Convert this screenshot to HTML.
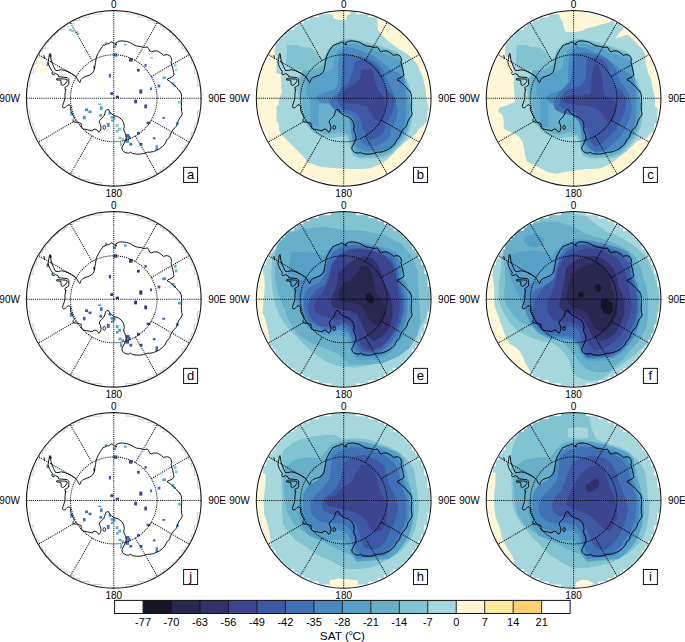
<!DOCTYPE html>
<html><head><meta charset="utf-8"><style>
html,body{margin:0;padding:0;background:#fff;width:685px;height:642px;overflow:hidden}
svg{display:block}
text{font-family:"Liberation Sans",sans-serif;fill:#000}
</style></head><body>
<svg width="685" height="642" viewBox="0 0 685 642">
<defs>
<clipPath id="cp"><circle r="87.40"/></clipPath>
<clipPath id="cs"><path d="M12.40 -86.80L12.40 -83.70L24.80 -83.70L24.80 -80.60L34.10 -80.60L34.10 -77.50L40.30 -77.50L40.30 -74.40L46.50 -74.40L46.50 -71.30L49.60 -71.30L49.60 -68.20L55.80 -68.20L55.80 -65.10L58.90 -65.10L58.90 -62.00L62.00 -62.00L62.00 -58.90L65.10 -58.90L65.10 -55.80L68.20 -55.80L68.20 -52.70L68.20 -52.70L68.20 -49.60L71.30 -49.60L71.30 -46.50L74.40 -46.50L74.40 -43.40L74.40 -43.40L74.40 -40.30L77.50 -40.30L77.50 -37.20L77.50 -37.20L77.50 -34.10L80.60 -34.10L80.60 -31.00L80.60 -31.00L80.60 -27.90L80.60 -27.90L80.60 -24.80L83.70 -24.80L83.70 -21.70L83.70 -21.70L83.70 -18.60L83.70 -18.60L83.70 -15.50L83.70 -15.50L83.70 -12.40L86.80 -12.40L86.80 -9.30L86.80 -9.30L86.80 -6.20L86.80 -6.20L86.80 -3.10L86.80 -3.10L86.80 0.00L86.80 0.00L86.80 3.10L86.80 3.10L86.80 6.20L86.80 6.20L86.80 9.30L86.80 9.30L86.80 12.40L83.70 12.40L83.70 15.50L83.70 15.50L83.70 18.60L83.70 18.60L83.70 21.70L83.70 21.70L83.70 24.80L80.60 24.80L80.60 27.90L80.60 27.90L80.60 31.00L80.60 31.00L80.60 34.10L77.50 34.10L77.50 37.20L77.50 37.20L77.50 40.30L74.40 40.30L74.40 43.40L74.40 43.40L74.40 46.50L71.30 46.50L71.30 49.60L68.20 49.60L68.20 52.70L68.20 52.70L68.20 55.80L65.10 55.80L65.10 58.90L62.00 58.90L62.00 62.00L58.90 62.00L58.90 65.10L55.80 65.10L55.80 68.20L49.60 68.20L49.60 71.30L46.50 71.30L46.50 74.40L40.30 74.40L40.30 77.50L34.10 77.50L34.10 80.60L24.80 80.60L24.80 83.70L12.40 83.70L12.40 86.80L-12.40 86.80L-12.40 83.70L-24.80 83.70L-24.80 80.60L-34.10 80.60L-34.10 77.50L-40.30 77.50L-40.30 74.40L-46.50 74.40L-46.50 71.30L-49.60 71.30L-49.60 68.20L-55.80 68.20L-55.80 65.10L-58.90 65.10L-58.90 62.00L-62.00 62.00L-62.00 58.90L-65.10 58.90L-65.10 55.80L-68.20 55.80L-68.20 52.70L-68.20 52.70L-68.20 49.60L-71.30 49.60L-71.30 46.50L-74.40 46.50L-74.40 43.40L-74.40 43.40L-74.40 40.30L-77.50 40.30L-77.50 37.20L-77.50 37.20L-77.50 34.10L-80.60 34.10L-80.60 31.00L-80.60 31.00L-80.60 27.90L-80.60 27.90L-80.60 24.80L-83.70 24.80L-83.70 21.70L-83.70 21.70L-83.70 18.60L-83.70 18.60L-83.70 15.50L-83.70 15.50L-83.70 12.40L-86.80 12.40L-86.80 9.30L-86.80 9.30L-86.80 6.20L-86.80 6.20L-86.80 3.10L-86.80 3.10L-86.80 0.00L-86.80 0.00L-86.80 -3.10L-86.80 -3.10L-86.80 -6.20L-86.80 -6.20L-86.80 -9.30L-86.80 -9.30L-86.80 -12.40L-83.70 -12.40L-83.70 -15.50L-83.70 -15.50L-83.70 -18.60L-83.70 -18.60L-83.70 -21.70L-83.70 -21.70L-83.70 -24.80L-80.60 -24.80L-80.60 -27.90L-80.60 -27.90L-80.60 -31.00L-80.60 -31.00L-80.60 -34.10L-77.50 -34.10L-77.50 -37.20L-77.50 -37.20L-77.50 -40.30L-74.40 -40.30L-74.40 -43.40L-74.40 -43.40L-74.40 -46.50L-71.30 -46.50L-71.30 -49.60L-68.20 -49.60L-68.20 -52.70L-68.20 -52.70L-68.20 -55.80L-65.10 -55.80L-65.10 -58.90L-62.00 -58.90L-62.00 -62.00L-58.90 -62.00L-58.90 -65.10L-55.80 -65.10L-55.80 -68.20L-49.60 -68.20L-49.60 -71.30L-46.50 -71.30L-46.50 -74.40L-40.30 -74.40L-40.30 -77.50L-34.10 -77.50L-34.10 -80.60L-24.80 -80.60L-24.80 -83.70L-12.40 -83.70L-12.40 -86.80Z"/></clipPath>
<g id="grid"><circle r="43.3" stroke="#000" stroke-width="1" stroke-dasharray="1.05 1.05" fill="none"/>
<path d="M0.00 -0.00L0.00 -87.40 M21.65 -37.50L43.70 -75.69 M37.50 -21.65L75.69 -43.70 M0.00 -0.00L87.40 -0.00 M37.50 21.65L75.69 43.70 M21.65 37.50L43.70 75.69 M0.00 0.00L0.00 87.40 M-21.65 37.50L-43.70 75.69 M-37.50 21.65L-75.69 43.70 M-0.00 0.00L-87.40 0.00 M-37.50 -21.65L-75.69 -43.70 M-21.65 -37.50L-43.70 -75.69" stroke="#000" stroke-width="1" stroke-dasharray="1.05 1.05" fill="none"/></g>
<g id="coast" fill="none" stroke="#000" stroke-width="0.9" stroke-linejoin="round"><path d="M-48.3 -7.8 L-48.9 -10.9 L-47.0 -11.9 L-45.0 -13.4 L-45.0 -19.0 L-46.4 -20.6 L-55.1 -21.4 L-55.7 -23.4 L-58.2 -24.6 L-60.7 -23.4 L-62.0 -24.6 L-61.3 -26.5 L-62.6 -28.4 L-64.1 -30.9 L-65.1 -33.3 L-65.7 -35.8 L-65.4 -38.3 L-64.8 -40.8 L-64.5 -43.3 L-63.8 -44.6 L-63.2 -42.1 L-62.9 -39.0 L-61.7 -35.2 L-60.1 -31.5 L-58.2 -27.7 L-55.7 -27.7 L-52.6 -28.4 L-48.9 -27.7 L-45.8 -26.5 L-42.0 -24.6 L-38.0 -21.5 L-36.4 -19.4 L-35.2 -16.9 L-33.9 -15.7 L-32.7 -18.8 L-30.8 -20.7 L-27.7 -21.9 L-24.0 -23.2 L-20.8 -25.7 L-19.6 -28.2 L-19.0 -31.9 L-18.3 -35.6 L-17.7 -39.4 L-17.1 -41.9 L-15.2 -45.6 L-13.4 -48.7 L-11.5 -51.2 L-10.9 -52.5 L-9.0 -53.1 L-6.5 -54.3 L-4.6 -54.3 L-2.8 -56.2 L-0.9 -55.6 L1.0 -53.7 L2.8 -53.1 L1.8 -55.0 L4.9 -56.8 L8.6 -57.1 L12.4 -56.6 L16.1 -55.6 L19.2 -53.7 L22.3 -52.1 L26.1 -51.6 L29.2 -50.9 L31.7 -50.6 L33.6 -51.2 L34.8 -49.4 L36.0 -46.9 L37.9 -46.2 L39.8 -47.1 L43.5 -47.1 L46.0 -45.6 L47.9 -44.4 L49.8 -42.5 L51.0 -43.1 L53.5 -43.4 L56.0 -42.5 L57.2 -40.6 L57.9 -37.5 L57.2 -36.3 L57.9 -33.2 L59.1 -29.4 L59.7 -25.7 L60.3 -23.2 L58.5 -21.3 L56.0 -20.1 L54.1 -19.5 L53.5 -18.2 L56.0 -17.0 L57.9 -15.1 L60.3 -13.2 L62.8 -10.7 L64.7 -8.2 L66.2 -7.0 L66.0 -7.4 L67.5 -4.3 L67.9 -0.6 L67.9 3.2 L67.5 8.1 L67.9 13.1 L68.5 15.6 L67.2 18.1 L65.4 20.6 L64.1 23.1 L63.5 25.6 L62.2 28.1 L59.8 30.6 L57.9 33.1 L56.6 35.6 L56.0 38.1 L54.8 39.9 L52.9 41.2 L52.3 43.0 L51.0 45.5 L48.5 48.0 L45.4 50.5 L42.3 51.8 L39.8 53.0 L36.1 53.6 L33.6 53.6 L29.8 54.9 L26.1 55.5 L22.4 55.5 L18.6 54.9 L16.8 53.6 L14.9 54.5 L12.4 54.3 L9.9 53.0 L8.7 51.8 L8.0 49.3 L9.3 46.8 L10.5 44.3 L11.8 41.8 L12.4 39.3 L11.8 35.6 L10.5 33.1 L9.9 30.6 L10.5 28.1 L9.9 24.3 L8.0 21.2 L4.9 18.7 L1.8 17.5 L-0.1 16.9 L-2.6 15.0 L-3.8 13.8 L-5.2 11.3 L-7.1 11.3 L-8.3 12.5 L-9.0 15.6 L-10.2 18.1 L-12.1 20.0 L-14.0 21.9 L-14.6 23.7 L-13.3 26.2 L-12.7 29.3 L-13.3 31.8 L-14.6 33.7 L-15.8 33.1 L-17.1 31.2 L-18.9 30.6 L-20.8 31.2 L-21.4 32.4 L-23.9 31.8 L-27.0 31.2 L-30.2 30.6 L-32.0 29.3 L-32.6 27.5 L-32.6 25.0 L-34.5 24.3 L-37.0 23.7 L-38.9 23.7 L-40.7 23.1 L-40.7 21.2 L-39.5 20.0 L-40.1 18.1 L-41.4 15.6 L-42.6 13.1 L-43.2 11.3 L-43.2 8.1 L-44.5 6.3 L-46.4 6.9 L-47.6 8.1 L-48.8 9.4 L-50.7 9.4 L-51.3 8.1 L-50.7 5.7 L-49.5 2.5 L-48.8 -0.6 L-48.8 -4.3 L-48.2 -8.1 L-47.6 -9.3 M-57.1 -19.5 L-57.1 -18.3 L-52.9 -17.9 L-52.5 -13.4 L-51.2 -12.7 L-48.6 -14.3 L-46.9 -16.8 L-46.6 -18.5 L-47.8 -19.1 L-57.1 -19.5 M-69.9 -43.0 L-69.3 -40.8 L-69.4 -39.0"/><ellipse cx="-9.5" cy="29" rx="1.3" ry="2" stroke-width="0.8"/></g>
</defs>
<rect width="685" height="642" fill="#fff"/>

<g transform="translate(113.8,98.3) scale(1,1.0055)">
<g clip-path="url(#cp)"><g clip-path="url(#cs)"><rect x="-45.3" y="-69.1" width="3.5" height="2.3" fill="#82c3d2"/><rect x="-42.3" y="-67.8" width="2.5" height="2.0" fill="#82c3d2"/><rect x="-38.3" y="-66.8" width="2.5" height="2.0" fill="#82c3d2"/><rect x="-36.3" y="-65.3" width="2.0" height="2.0" fill="#82c3d2"/><rect x="-64.5" y="-43.8" width="2.7" height="2.5" fill="#68b0ca"/><rect x="-67.2" y="-35.5" width="2.0" height="3.4" fill="#4a89c0"/><rect x="-61.8" y="-26.6" width="3.0" height="2.0" fill="#82c3d2"/><rect x="-20.6" y="-32.1" width="2.0" height="2.7" fill="#4a89c0"/><rect x="-4.9" y="-24.3" width="2.1" height="3.5" fill="#3e58a6"/><rect x="-9.0" y="-56.3" width="2.2" height="2.5" fill="#82c3d2"/><rect x="-3.5" y="-6.1" width="2.9" height="2.8" fill="#3c4590"/><rect x="-0.8" y="-52.7" width="3.0" height="2.6" fill="#68b0ca"/><rect x="10.2" y="-54.5" width="2.7" height="2.2" fill="#82c3d2"/><rect x="-0.3" y="-44.8" width="4.0" height="3.5" fill="#4a89c0"/><rect x="36.2" y="-41.0" width="2.8" height="1.4" fill="#82c3d2"/><rect x="15.2" y="-40.0" width="3.6" height="3.5" fill="#3c4590"/><rect x="30.7" y="-34.2" width="2.1" height="2.8" fill="#3e58a6"/><rect x="23.2" y="-29.4" width="2.7" height="2.8" fill="#3c4590"/><rect x="60.2" y="-34.3" width="2.5" height="3.0" fill="#a5d7dd"/><rect x="61.2" y="-29.8" width="2.4" height="3.0" fill="#a5d7dd"/><rect x="48.5" y="-21.8" width="3.7" height="2.7" fill="#68b0ca"/><rect x="43.8" y="-13.6" width="2.7" height="2.8" fill="#4070b5"/><rect x="36.2" y="-10.8" width="2.0" height="2.7" fill="#4070b5"/><rect x="25.5" y="-8.8" width="3.0" height="4.1" fill="#3c4590"/><rect x="57.7" y="-16.3" width="3.0" height="2.5" fill="#82c3d2"/><rect x="59.7" y="-13.8" width="2.5" height="2.3" fill="#82c3d2"/><rect x="1.9" y="-2.6" width="3.3" height="2.3" fill="#3c4590"/><rect x="-28.8" y="10.0" width="3.0" height="2.7" fill="#4a89c0"/><rect x="-25.3" y="12.2" width="3.0" height="2.5" fill="#4a89c0"/><rect x="-15.8" y="5.2" width="3.4" height="1.4" fill="#68b0ca"/><rect x="-30.8" y="17.5" width="2.6" height="3.4" fill="#4a89c0"/><rect x="-13.8" y="7.9" width="2.6" height="3.8" fill="#57a0c8"/><rect x="-14.5" y="15.5" width="2.7" height="2.7" fill="#57a0c8"/><rect x="-6.9" y="24.4" width="2.7" height="4.1" fill="#4a89c0"/><rect x="-5.3" y="13.7" width="2.5" height="2.5" fill="#57a0c8"/><rect x="-3.3" y="17.7" width="2.5" height="2.5" fill="#68b0ca"/><rect x="-2.8" y="21.2" width="2.5" height="2.0" fill="#57a0c8"/><rect x="-43.9" y="13.7" width="2.6" height="3.5" fill="#68b0ca"/><rect x="20.4" y="1.3" width="2.8" height="3.7" fill="#3c4590"/><rect x="30.5" y="6.2" width="2.7" height="3.7" fill="#3c4590"/><rect x="64.3" y="2.4" width="2.8" height="2.8" fill="#82c3d2"/><rect x="48.5" y="18.5" width="2.8" height="1.8" fill="#4070b5"/><rect x="32.8" y="23.2" width="3.8" height="2.3" fill="#3e58a6"/><rect x="62.2" y="23.7" width="2.8" height="2.7" fill="#68b0ca"/><rect x="23.2" y="33.3" width="2.7" height="2.7" fill="#3e58a6"/><rect x="39.0" y="38.7" width="2.7" height="2.1" fill="#4070b5"/><rect x="25.9" y="44.3" width="2.8" height="2.7" fill="#3e58a6"/><rect x="15.6" y="44.3" width="2.8" height="2.7" fill="#4070b5"/><rect x="41.7" y="46.7" width="2.5" height="5.0" fill="#57a0c8"/><rect x="12.2" y="35.5" width="3.5" height="3.7" fill="#4070b5"/><rect x="11.7" y="39.7" width="3.5" height="4.5" fill="#4a89c0"/><rect x="14.7" y="37.7" width="2.0" height="3.0" fill="#3e58a6"/><rect x="1.9" y="25.7" width="2.8" height="3.0" fill="#82c3d2"/><rect x="4.2" y="29.2" width="3.0" height="3.0" fill="#82c3d2"/><rect x="2.2" y="31.7" width="2.5" height="2.3" fill="#68b0ca"/><rect x="4.7" y="38.1" width="3.0" height="2.6" fill="#82c3d2"/><rect x="7.7" y="39.7" width="2.5" height="2.5" fill="#82c3d2"/><rect x="6.1" y="43.7" width="2.4" height="4.0" fill="#82c3d2"/><rect x="-0.8" y="17.7" width="2.5" height="3.5" fill="#68b0ca"/><rect x="-76.8" y="-38.3" width="5.0" height="4.0" fill="#fef6d4"/><rect x="-72.8" y="-35.3" width="5.0" height="4.0" fill="#fef6d4"/><rect x="-78.8" y="-33.3" width="5.0" height="4.0" fill="#fef6d4"/><rect x="-71.8" y="-30.3" width="5.0" height="4.0" fill="#fef6d4"/><rect x="-74.8" y="-28.3" width="4.0" height="3.0" fill="#fef6d4"/></g></g>
<g clip-path="url(#cp)"><path d="M12.40 -86.80L12.40 -83.70L24.80 -83.70L24.80 -80.60L34.10 -80.60L34.10 -77.50L40.30 -77.50L40.30 -74.40L46.50 -74.40L46.50 -71.30L49.60 -71.30L49.60 -68.20L55.80 -68.20L55.80 -65.10L58.90 -65.10L58.90 -62.00L62.00 -62.00L62.00 -58.90L65.10 -58.90L65.10 -55.80L68.20 -55.80L68.20 -52.70L68.20 -52.70L68.20 -49.60L71.30 -49.60L71.30 -46.50L74.40 -46.50L74.40 -43.40L74.40 -43.40L74.40 -40.30L77.50 -40.30L77.50 -37.20L77.50 -37.20L77.50 -34.10L80.60 -34.10L80.60 -31.00L80.60 -31.00L80.60 -27.90L80.60 -27.90L80.60 -24.80L83.70 -24.80L83.70 -21.70L83.70 -21.70L83.70 -18.60L83.70 -18.60L83.70 -15.50L83.70 -15.50L83.70 -12.40L86.80 -12.40L86.80 -9.30L86.80 -9.30L86.80 -6.20L86.80 -6.20L86.80 -3.10L86.80 -3.10L86.80 0.00L86.80 0.00L86.80 3.10L86.80 3.10L86.80 6.20L86.80 6.20L86.80 9.30L86.80 9.30L86.80 12.40L83.70 12.40L83.70 15.50L83.70 15.50L83.70 18.60L83.70 18.60L83.70 21.70L83.70 21.70L83.70 24.80L80.60 24.80L80.60 27.90L80.60 27.90L80.60 31.00L80.60 31.00L80.60 34.10L77.50 34.10L77.50 37.20L77.50 37.20L77.50 40.30L74.40 40.30L74.40 43.40L74.40 43.40L74.40 46.50L71.30 46.50L71.30 49.60L68.20 49.60L68.20 52.70L68.20 52.70L68.20 55.80L65.10 55.80L65.10 58.90L62.00 58.90L62.00 62.00L58.90 62.00L58.90 65.10L55.80 65.10L55.80 68.20L49.60 68.20L49.60 71.30L46.50 71.30L46.50 74.40L40.30 74.40L40.30 77.50L34.10 77.50L34.10 80.60L24.80 80.60L24.80 83.70L12.40 83.70L12.40 86.80L-12.40 86.80L-12.40 83.70L-24.80 83.70L-24.80 80.60L-34.10 80.60L-34.10 77.50L-40.30 77.50L-40.30 74.40L-46.50 74.40L-46.50 71.30L-49.60 71.30L-49.60 68.20L-55.80 68.20L-55.80 65.10L-58.90 65.10L-58.90 62.00L-62.00 62.00L-62.00 58.90L-65.10 58.90L-65.10 55.80L-68.20 55.80L-68.20 52.70L-68.20 52.70L-68.20 49.60L-71.30 49.60L-71.30 46.50L-74.40 46.50L-74.40 43.40L-74.40 43.40L-74.40 40.30L-77.50 40.30L-77.50 37.20L-77.50 37.20L-77.50 34.10L-80.60 34.10L-80.60 31.00L-80.60 31.00L-80.60 27.90L-80.60 27.90L-80.60 24.80L-83.70 24.80L-83.70 21.70L-83.70 21.70L-83.70 18.60L-83.70 18.60L-83.70 15.50L-83.70 15.50L-83.70 12.40L-86.80 12.40L-86.80 9.30L-86.80 9.30L-86.80 6.20L-86.80 6.20L-86.80 3.10L-86.80 3.10L-86.80 0.00L-86.80 0.00L-86.80 -3.10L-86.80 -3.10L-86.80 -6.20L-86.80 -6.20L-86.80 -9.30L-86.80 -9.30L-86.80 -12.40L-83.70 -12.40L-83.70 -15.50L-83.70 -15.50L-83.70 -18.60L-83.70 -18.60L-83.70 -21.70L-83.70 -21.70L-83.70 -24.80L-80.60 -24.80L-80.60 -27.90L-80.60 -27.90L-80.60 -31.00L-80.60 -31.00L-80.60 -34.10L-77.50 -34.10L-77.50 -37.20L-77.50 -37.20L-77.50 -40.30L-74.40 -40.30L-74.40 -43.40L-74.40 -43.40L-74.40 -46.50L-71.30 -46.50L-71.30 -49.60L-68.20 -49.60L-68.20 -52.70L-68.20 -52.70L-68.20 -55.80L-65.10 -55.80L-65.10 -58.90L-62.00 -58.90L-62.00 -62.00L-58.90 -62.00L-58.90 -65.10L-55.80 -65.10L-55.80 -68.20L-49.60 -68.20L-49.60 -71.30L-46.50 -71.30L-46.50 -74.40L-40.30 -74.40L-40.30 -77.50L-34.10 -77.50L-34.10 -80.60L-24.80 -80.60L-24.80 -83.70L-12.40 -83.70L-12.40 -86.80Z" fill="none" stroke="#b0b0b0" stroke-width="0.6"/></g>
<use href="#grid"/><use href="#coast"/>
<circle r="87.4" fill="none" stroke="#111" stroke-width="1"/>
<rect x="69.8" y="68.7" width="14" height="15" fill="#fff" stroke="#111" stroke-width="1"/>
<text x="76.8" y="80" font-size="13" text-anchor="middle">a</text>
</g>
<g transform="translate(343.7,98.3) scale(1,1.0055)">
<g clip-path="url(#cp)"><g clip-path="url(#cs)"><circle r="89.4" fill="#fef6d4"/><path d="M-46.6 -93.8L-13.7 -93.8L-13.7 -84.2L-11.0 -82.8L-10.4 -79.5L-5.5 -78.1L0.3 -77.6L2.7 -78.1L3.3 -82.2L6.9 -84.2L6.9 -93.8L33.4 -93.8L33.4 -80.0L34.3 -67.7L38.9 -62.2L43.0 -58.1L48.5 -54.0L54.0 -49.9L60.9 -45.8L66.3 -41.7L70.4 -37.6L74.0 -33.4L75.9 -28.0L78.7 -22.5L80.0 -17.0L81.4 -11.5L82.2 -6.0L82.8 -0.3L84.2 6.3L85.5 13.4L82.8 23.0L80.0 27.1L75.9 29.9L73.2 34.0L69.1 38.1L65.0 40.8L60.9 43.6L56.7 47.7L52.6 51.8L48.5 55.9L44.4 60.0L38.9 64.1L33.4 66.9L26.6 69.6L19.7 70.2L6.0 70.2L-0.8 69.6L-8.2 69.6L-16.4 68.8L-21.9 68.3L-27.4 66.9L-30.2 65.5L-35.6 64.1L-38.4 60.0L-42.5 55.9L-46.6 51.8L-50.7 47.7L-54.8 43.6L-58.9 39.5L-61.7 36.7L-64.4 32.6L-65.2 24.4L-67.2 23.0L-67.2 7.9L-65.2 6.6L-64.4 -0.3L-61.7 -6.0L-62.5 -11.5L-62.5 -23.8L-67.2 -25.2L-67.2 -41.7L-68.5 -43.0L-69.9 -52.1L-93.2 -60.9L-93.2 -93.8Z" fill="#a5d7dd"/><path d="M-56.8 -53.0L-44.6 -53.0L-44.6 -51.2L-33.4 -50.2L-29.7 -47.4L-26.9 -44.6L-23.1 -40.9L-20.3 -39.0L-18.4 -42.7L-15.6 -49.3L-9.1 -54.9L-1.6 -58.1L7.7 -59.2L17.1 -57.3L26.4 -54.9L35.8 -52.1L45.1 -49.3L54.4 -45.6L59.1 -39.9L59.1 -31.5L60.1 -23.1L63.8 -17.5L67.5 -7.2L69.4 7.7L68.5 22.7L65.7 33.0L61.0 41.4L54.4 48.8L47.9 55.4L39.5 59.1L17.1 60.1L9.6 57.3L5.9 48.8L4.9 41.4L2.1 37.6L-5.4 38.6L-12.8 39.5L-20.3 38.6L-27.8 35.8L-33.4 31.1L-39.0 24.5L-41.8 17.1L-43.7 7.7L-45.6 -1.6L-46.5 -11.0L-44.6 -20.3L-41.8 -27.8L-48.4 -28.7L-57.7 -32.5Z" fill="#82c3d2"/><path d="M-40.9 -27.8L-29.7 -28.7L-20.3 -33.4L-18.4 -39.0L-17.5 -44.6L-14.7 -49.3L-8.2 -54.0L-1.6 -56.8L7.7 -57.7L17.1 -55.8L26.4 -53.0L35.8 -50.2L45.1 -47.4L54.4 -43.7L57.3 -39.0L57.3 -31.5L58.2 -22.2L61.9 -16.6L65.7 -7.2L67.5 7.7L66.6 22.7L63.8 32.0L59.1 39.5L53.5 47.0L47.0 53.5L37.6 57.3L17.1 58.2L10.5 55.4L7.7 48.8L6.8 41.4L4.0 35.9L-1.6 34.1L-7.2 34.1L-12.8 35.9L-19.4 35.8L-25.0 33.0L-31.5 30.1L-35.3 24.5L-39.0 17.1L-40.9 7.7L-42.7 -3.3L-44.6 -11.0L-42.7 -20.3Z" fill="#68b0ca"/><path d="M-37.1 -21.3L-24.1 -23.1L-11.0 -29.7L-10.0 -39.9L-5.4 -48.4L2.3 -54.0L9.8 -54.9L16.3 -53.0L22.9 -51.2L30.3 -48.4L35.0 -45.6L41.6 -43.7L49.0 -40.9L54.6 -39.0L57.4 -37.1L59.3 -32.5L60.1 -25.9L61.9 -16.6L64.7 -7.2L66.6 7.7L65.7 20.8L62.9 30.1L58.2 37.6L52.6 45.1L47.0 50.7L37.6 54.4L28.3 55.4L17.1 55.4L11.5 52.6L9.6 45.1L8.7 37.6L6.8 28.3L4.0 18.9L2.3 6.0L-25.0 6.0L-25.0 28.5L-33.4 28.5L-33.4 0.4L-37.1 -3.3Z" fill="#57a0c8"/><path d="M2.3 -51.2L7.9 -50.2L13.5 -49.3L19.1 -46.5L24.7 -44.6L30.3 -41.8L36.9 -37.1L41.6 -33.4L47.2 -28.7L52.8 -25.9L57.3 -23.1L59.7 -18.4L62.3 -7.2L62.9 15.2L61.0 26.4L58.2 35.8L54.4 41.4L48.8 48.8L39.5 51.6L30.1 52.6L20.8 52.6L13.3 48.8L9.6 43.2L7.7 35.8L6.8 26.4L5.9 18.9L2.1 17.1L-9.1 5.9L-24.1 4.0L-27.8 -1.6L-20.3 -5.4L-9.1 -9.1L-5.4 -16.6L-5.4 -35.3L-3.5 -44.6Z" fill="#4a89c0"/><path d="M2.3 -44.6L7.9 -43.7L11.6 -41.8L16.3 -41.8L21.0 -40.9L26.6 -39.0L32.2 -36.2L35.9 -32.5L39.7 -27.8L42.5 -22.2L44.4 -16.6L47.2 -11.0L49.2 -5.4L51.6 2.1L54.1 10.7L53.5 17.1L51.6 22.9L48.8 28.3L47.0 33.0L47.2 35.9L43.4 41.6L37.8 45.3L30.3 48.1L22.9 47.2L17.3 43.4L14.4 38.7L12.6 34.1L11.6 28.5L10.7 21.0L7.9 17.3L2.3 15.4L-3.5 15.2L-9.1 11.5L-12.8 7.7L-14.7 2.1L-11.0 -1.6L-3.5 -7.2L-2.6 -16.6L-1.6 -25.9L-1.6 -35.3L0.2 -42.7Z" fill="#4070b5"/><path d="M11.6 -36.2L16.3 -38.1L21.9 -39.0L28.5 -35.3L33.1 -31.5L35.9 -27.8L37.8 -23.1L39.7 -16.6L41.6 -11.0L45.1 -7.2L48.8 -3.3L52.8 1.4L50.9 6.0L49.0 13.5L45.3 20.1L41.6 24.7L41.6 29.4L39.7 34.1L35.9 37.8L30.3 40.6L26.6 41.6L22.9 38.7L21.0 34.1L18.2 27.5L16.3 20.1L13.5 15.4L7.9 12.6L2.3 11.6L-1.6 9.6L-5.4 4.0L-7.2 -1.6L-3.5 -7.2L-1.6 -11.0L2.3 -12.8L4.2 -14.7L6.0 -18.4L7.9 -24.1L9.8 -30.6Z" fill="#3e58a6"/><path d="M17.3 -27.8L21.0 -28.7L27.5 -29.3L29.4 -25.9L30.3 -21.3L31.3 -16.6L33.1 -11.0L35.9 -5.4L38.7 -3.3L41.6 2.3L41.6 8.8L39.7 15.4L37.8 21.0L35.0 22.9L31.3 21.0L27.5 15.4L24.7 9.8L21.0 7.0L11.6 5.5L2.3 5.1L-1.6 2.1L-0.7 -3.5L2.3 -9.1L7.0 -11.9L11.6 -14.7L15.4 -18.4L17.3 -23.1Z" fill="#3c4590"/></g></g>
<use href="#grid"/><use href="#coast"/>
<circle r="87.4" fill="none" stroke="#111" stroke-width="1"/>
<rect x="69.8" y="68.7" width="14" height="15" fill="#fff" stroke="#111" stroke-width="1"/>
<text x="76.8" y="80" font-size="13" text-anchor="middle">b</text>
</g>
<g transform="translate(573.6,98.3) scale(1,1.0055)">
<g clip-path="url(#cp)"><g clip-path="url(#cs)"><circle r="89.4" fill="#fef6d4"/><path d="M-46.6 -93.8L-15.1 -93.8L-15.1 -85.5L-13.7 -80.0L-11.0 -75.9L-9.6 -70.4L-8.2 -66.3L0.3 -65.8L3.3 -66.3L10.1 -67.7L11.5 -69.1L17.0 -70.4L23.8 -71.8L26.6 -73.2L32.1 -74.6L36.2 -75.9L38.9 -77.3L48.0 -75.9L49.3 -68.5L44.4 -63.6L41.7 -59.5L46.6 -60.9L54.0 -63.0L56.7 -60.9L60.9 -56.7L65.0 -52.6L69.1 -48.5L71.8 -43.0L71.8 -36.2L73.2 -30.7L74.6 -25.2L77.3 -19.7L78.7 -11.5L80.0 -6.0L81.4 -0.3L81.4 7.9L84.2 10.7L84.2 13.4L93.2 13.4L93.2 34.0L75.9 35.4L73.2 39.5L67.7 40.8L62.2 43.6L56.7 49.1L52.6 53.2L47.1 57.3L41.7 61.4L37.6 64.1L33.4 66.9L26.6 69.6L19.7 70.2L12.9 70.2L6.0 71.0L-0.8 72.1L-5.5 72.9L-11.0 73.7L-16.4 75.1L-24.7 73.7L-30.2 71.0L-35.6 68.3L-41.1 65.5L-46.6 62.8L-48.0 58.7L-49.3 51.8L-50.7 43.6L-54.8 38.1L-60.3 34.0L-65.8 32.6L-69.9 29.9L-69.9 21.7L-71.3 16.2L-75.4 13.4L-74.0 9.3L-65.8 6.6L-58.9 3.8L-58.9 -0.3L-59.8 -14.3L-59.8 -23.8L-61.1 -30.7L-62.5 -38.9L-67.2 -41.1L-68.0 -43.0L-68.5 -47.1L-69.4 -51.3L-93.2 -60.9L-93.2 -93.8Z" fill="#a5d7dd"/><path d="M-56.8 -53.0L-44.6 -53.0L-44.6 -51.2L-33.4 -50.2L-29.7 -47.4L-26.9 -44.6L-23.1 -40.9L-20.3 -39.0L-18.4 -42.7L-15.6 -49.3L-9.1 -54.9L-1.6 -58.1L7.7 -59.2L17.1 -57.3L26.4 -54.9L35.8 -52.1L45.1 -49.3L54.4 -45.6L59.1 -39.9L59.1 -31.5L60.1 -23.1L63.8 -17.5L67.5 -7.2L69.4 7.7L68.5 22.7L65.7 33.0L61.0 41.4L54.4 48.8L47.9 55.4L39.5 59.1L17.1 60.1L9.6 57.3L5.9 48.8L4.9 41.4L2.1 37.6L-5.4 38.6L-12.8 39.5L-20.3 38.6L-27.8 35.8L-33.4 31.1L-39.0 24.5L-41.8 17.1L-43.7 7.7L-45.6 -1.6L-46.5 -11.0L-44.6 -20.3L-41.8 -27.8L-48.4 -28.7L-57.7 -32.5Z" fill="#82c3d2"/><path d="M-40.9 -27.8L-29.7 -28.7L-20.3 -33.4L-18.4 -39.0L-17.5 -44.6L-14.7 -49.3L-8.2 -54.0L-1.6 -56.8L7.7 -57.7L17.1 -55.8L26.4 -53.0L35.8 -50.2L45.1 -47.4L54.4 -43.7L57.3 -39.0L57.3 -31.5L58.2 -22.2L61.9 -16.6L65.7 -7.2L67.5 7.7L66.6 22.7L63.8 32.0L59.1 39.5L53.5 47.0L47.0 53.5L37.6 57.3L17.1 58.2L10.5 55.4L7.7 48.8L6.8 41.4L4.0 35.9L-1.6 34.1L-7.2 34.1L-12.8 35.9L-19.4 35.8L-25.0 33.0L-31.5 30.1L-35.3 24.5L-39.0 17.1L-40.9 7.7L-42.7 -3.3L-44.6 -11.0L-42.7 -20.3Z" fill="#68b0ca"/><path d="M-37.1 -21.3L-24.1 -23.1L-11.0 -29.7L-10.0 -39.9L-5.4 -48.4L2.3 -54.0L9.8 -54.9L16.3 -53.0L22.9 -51.2L30.3 -48.4L35.0 -45.6L41.6 -43.7L49.0 -40.9L54.6 -39.0L57.4 -37.1L59.3 -32.5L60.1 -25.9L61.9 -16.6L64.7 -7.2L66.6 7.7L65.7 20.8L62.9 30.1L58.2 37.6L52.6 45.1L47.0 50.7L37.6 54.4L28.3 55.4L17.1 55.4L11.5 52.6L9.6 45.1L8.7 37.6L6.8 28.3L4.0 18.9L2.3 6.0L-25.0 6.0L-25.0 28.5L-33.4 28.5L-33.4 0.4L-37.1 -3.3Z" fill="#57a0c8"/><path d="M2.3 -51.2L7.9 -50.2L13.5 -49.3L19.1 -46.5L24.7 -44.6L30.3 -41.8L36.9 -37.1L41.6 -33.4L47.2 -28.7L52.8 -25.9L57.3 -23.1L59.7 -18.4L62.3 -7.2L62.9 15.2L61.0 26.4L58.2 35.8L54.4 41.4L48.8 48.8L39.5 51.6L30.1 52.6L20.8 52.6L13.3 48.8L9.6 43.2L7.7 35.8L6.8 26.4L5.9 18.9L2.1 17.1L-9.1 5.9L-24.1 4.0L-27.8 -1.6L-20.3 -5.4L-9.1 -9.1L-5.4 -16.6L-5.4 -35.3L-3.5 -44.6Z" fill="#4a89c0"/><path d="M2.3 -44.6L9.6 -45.6L17.1 -44.6L26.4 -42.7L33.9 -39.0L39.5 -33.4L43.2 -25.9L47.0 -16.6L52.6 -9.1L56.3 -1.6L58.2 7.7L57.3 17.1L54.4 24.5L50.7 32.0L47.0 37.6L41.4 43.2L35.8 48.8L30.1 52.6L22.7 54.4L17.1 50.7L13.3 45.1L11.5 37.6L8.7 30.1L4.9 22.7L-1.6 17.1L-11.0 15.2L-18.4 11.5L-20.3 5.9L-18.4 0.2L-14.7 -5.4L-9.1 -11.0L-3.5 -16.6L-1.6 -25.9L-0.7 -35.3L0.2 -42.7Z" fill="#4070b5"/><path d="M13.3 -39.0L20.8 -40.9L28.3 -39.0L33.9 -33.4L35.8 -25.9L37.6 -18.4L43.2 -11.0L48.8 -7.2L52.6 0.2L52.6 7.7L50.7 15.2L47.0 22.7L43.2 30.1L37.6 35.8L32.0 41.4L26.4 47.0L20.8 48.8L17.1 43.2L15.2 35.8L11.5 26.4L7.7 18.9L2.1 15.2L-5.4 11.5L-11.0 9.6L-14.7 5.9L-12.8 0.2L-9.1 -5.4L-5.4 -9.1L2.1 -11.0L7.7 -12.8L11.5 -18.4L12.4 -25.9L12.4 -33.4Z" fill="#3e58a6"/><path d="M20.6 -33.0L24.4 -34.0L26.2 -30.2L27.2 -24.6L29.0 -19.0L29.0 -13.4L30.0 -7.8L30.9 -3.1L34.6 -0.3L38.4 1.6L42.1 3.4L43.2 9.6L41.4 17.1L38.6 23.6L34.8 24.5L31.1 19.9L27.3 13.3L21.6 10.0L14.1 7.7L6.6 6.8L-0.9 5.9L-8.4 4.4L-11.2 1.6L-7.4 -1.3L-3.7 -3.1L1.0 -3.1L6.6 -2.2L12.2 -4.1L16.9 -4.1L17.8 -9.7L17.8 -17.1L18.7 -24.6L19.7 -29.3Z" fill="#3c4590"/></g></g>
<use href="#grid"/><use href="#coast"/>
<circle r="87.4" fill="none" stroke="#111" stroke-width="1"/>
<rect x="69.8" y="68.7" width="14" height="15" fill="#fff" stroke="#111" stroke-width="1"/>
<text x="76.8" y="80" font-size="13" text-anchor="middle">c</text>
</g>
<g transform="translate(113.8,299.3) scale(1,1.0055)">
<g clip-path="url(#cp)"><g clip-path="url(#cs)"><rect x="-64.5" y="-43.8" width="2.7" height="2.5" fill="#4a89c0"/><rect x="-67.2" y="-35.5" width="2.0" height="3.4" fill="#3e58a6"/><rect x="-61.8" y="-26.6" width="3.0" height="2.0" fill="#57a0c8"/><rect x="-20.6" y="-32.1" width="2.0" height="2.7" fill="#3e58a6"/><rect x="-4.9" y="-24.3" width="2.1" height="3.5" fill="#3c4590"/><rect x="-9.0" y="-56.3" width="2.2" height="2.5" fill="#57a0c8"/><rect x="-3.5" y="-6.1" width="2.9" height="2.8" fill="#32316b"/><rect x="-0.8" y="-52.7" width="3.0" height="2.6" fill="#4a89c0"/><rect x="10.2" y="-54.5" width="2.7" height="2.2" fill="#57a0c8"/><rect x="-0.3" y="-44.8" width="4.0" height="3.5" fill="#3e58a6"/><rect x="15.2" y="-40.0" width="3.6" height="3.5" fill="#32316b"/><rect x="30.7" y="-34.2" width="2.1" height="2.8" fill="#3c4590"/><rect x="23.2" y="-29.4" width="2.7" height="2.8" fill="#32316b"/><rect x="60.2" y="-34.3" width="2.5" height="3.0" fill="#68b0ca"/><rect x="61.2" y="-29.8" width="2.4" height="3.0" fill="#68b0ca"/><rect x="48.5" y="-21.8" width="3.7" height="2.7" fill="#4a89c0"/><rect x="43.8" y="-13.6" width="2.7" height="2.8" fill="#3e58a6"/><rect x="36.2" y="-10.8" width="2.0" height="2.7" fill="#3e58a6"/><rect x="25.5" y="-8.8" width="3.0" height="4.1" fill="#32316b"/><rect x="57.7" y="-16.3" width="3.0" height="2.5" fill="#57a0c8"/><rect x="59.7" y="-13.8" width="2.5" height="2.3" fill="#57a0c8"/><rect x="1.9" y="-2.6" width="3.3" height="2.3" fill="#32316b"/><rect x="-28.8" y="10.0" width="3.0" height="2.7" fill="#3e58a6"/><rect x="-25.3" y="12.2" width="3.0" height="2.5" fill="#3e58a6"/><rect x="-15.8" y="5.2" width="3.4" height="1.4" fill="#4a89c0"/><rect x="-30.8" y="17.5" width="2.6" height="3.4" fill="#3e58a6"/><rect x="-13.8" y="7.9" width="2.6" height="3.8" fill="#4070b5"/><rect x="-14.5" y="15.5" width="2.7" height="2.7" fill="#4070b5"/><rect x="-6.9" y="24.4" width="2.7" height="4.1" fill="#3e58a6"/><rect x="-5.3" y="13.7" width="2.5" height="2.5" fill="#4070b5"/><rect x="-3.3" y="17.7" width="2.5" height="2.5" fill="#4a89c0"/><rect x="-2.8" y="21.2" width="2.5" height="2.0" fill="#4070b5"/><rect x="-43.9" y="13.7" width="2.6" height="3.5" fill="#4a89c0"/><rect x="20.4" y="1.3" width="2.8" height="3.7" fill="#32316b"/><rect x="30.5" y="6.2" width="2.7" height="3.7" fill="#32316b"/><rect x="64.3" y="2.4" width="2.8" height="2.8" fill="#57a0c8"/><rect x="48.5" y="18.5" width="2.8" height="1.8" fill="#3e58a6"/><rect x="32.8" y="23.2" width="3.8" height="2.3" fill="#3c4590"/><rect x="62.2" y="23.7" width="2.8" height="2.7" fill="#4a89c0"/><rect x="23.2" y="33.3" width="2.7" height="2.7" fill="#3c4590"/><rect x="39.0" y="38.7" width="2.7" height="2.1" fill="#3e58a6"/><rect x="25.9" y="44.3" width="2.8" height="2.7" fill="#3c4590"/><rect x="15.6" y="44.3" width="2.8" height="2.7" fill="#3e58a6"/><rect x="41.7" y="46.7" width="2.5" height="5.0" fill="#4070b5"/><rect x="12.2" y="35.5" width="3.5" height="3.7" fill="#3e58a6"/><rect x="11.7" y="39.7" width="3.5" height="4.5" fill="#3e58a6"/><rect x="14.7" y="37.7" width="2.0" height="3.0" fill="#3c4590"/><rect x="1.9" y="25.7" width="2.8" height="3.0" fill="#57a0c8"/><rect x="4.2" y="29.2" width="3.0" height="3.0" fill="#57a0c8"/><rect x="2.2" y="31.7" width="2.5" height="2.3" fill="#4a89c0"/><rect x="4.7" y="38.1" width="3.0" height="2.6" fill="#57a0c8"/><rect x="7.7" y="39.7" width="2.5" height="2.5" fill="#57a0c8"/><rect x="6.1" y="43.7" width="2.4" height="4.0" fill="#57a0c8"/><rect x="-0.8" y="17.7" width="2.5" height="3.5" fill="#4a89c0"/></g></g>
<g clip-path="url(#cp)"><path d="M12.40 -86.80L12.40 -83.70L24.80 -83.70L24.80 -80.60L34.10 -80.60L34.10 -77.50L40.30 -77.50L40.30 -74.40L46.50 -74.40L46.50 -71.30L49.60 -71.30L49.60 -68.20L55.80 -68.20L55.80 -65.10L58.90 -65.10L58.90 -62.00L62.00 -62.00L62.00 -58.90L65.10 -58.90L65.10 -55.80L68.20 -55.80L68.20 -52.70L68.20 -52.70L68.20 -49.60L71.30 -49.60L71.30 -46.50L74.40 -46.50L74.40 -43.40L74.40 -43.40L74.40 -40.30L77.50 -40.30L77.50 -37.20L77.50 -37.20L77.50 -34.10L80.60 -34.10L80.60 -31.00L80.60 -31.00L80.60 -27.90L80.60 -27.90L80.60 -24.80L83.70 -24.80L83.70 -21.70L83.70 -21.70L83.70 -18.60L83.70 -18.60L83.70 -15.50L83.70 -15.50L83.70 -12.40L86.80 -12.40L86.80 -9.30L86.80 -9.30L86.80 -6.20L86.80 -6.20L86.80 -3.10L86.80 -3.10L86.80 0.00L86.80 0.00L86.80 3.10L86.80 3.10L86.80 6.20L86.80 6.20L86.80 9.30L86.80 9.30L86.80 12.40L83.70 12.40L83.70 15.50L83.70 15.50L83.70 18.60L83.70 18.60L83.70 21.70L83.70 21.70L83.70 24.80L80.60 24.80L80.60 27.90L80.60 27.90L80.60 31.00L80.60 31.00L80.60 34.10L77.50 34.10L77.50 37.20L77.50 37.20L77.50 40.30L74.40 40.30L74.40 43.40L74.40 43.40L74.40 46.50L71.30 46.50L71.30 49.60L68.20 49.60L68.20 52.70L68.20 52.70L68.20 55.80L65.10 55.80L65.10 58.90L62.00 58.90L62.00 62.00L58.90 62.00L58.90 65.10L55.80 65.10L55.80 68.20L49.60 68.20L49.60 71.30L46.50 71.30L46.50 74.40L40.30 74.40L40.30 77.50L34.10 77.50L34.10 80.60L24.80 80.60L24.80 83.70L12.40 83.70L12.40 86.80L-12.40 86.80L-12.40 83.70L-24.80 83.70L-24.80 80.60L-34.10 80.60L-34.10 77.50L-40.30 77.50L-40.30 74.40L-46.50 74.40L-46.50 71.30L-49.60 71.30L-49.60 68.20L-55.80 68.20L-55.80 65.10L-58.90 65.10L-58.90 62.00L-62.00 62.00L-62.00 58.90L-65.10 58.90L-65.10 55.80L-68.20 55.80L-68.20 52.70L-68.20 52.70L-68.20 49.60L-71.30 49.60L-71.30 46.50L-74.40 46.50L-74.40 43.40L-74.40 43.40L-74.40 40.30L-77.50 40.30L-77.50 37.20L-77.50 37.20L-77.50 34.10L-80.60 34.10L-80.60 31.00L-80.60 31.00L-80.60 27.90L-80.60 27.90L-80.60 24.80L-83.70 24.80L-83.70 21.70L-83.70 21.70L-83.70 18.60L-83.70 18.60L-83.70 15.50L-83.70 15.50L-83.70 12.40L-86.80 12.40L-86.80 9.30L-86.80 9.30L-86.80 6.20L-86.80 6.20L-86.80 3.10L-86.80 3.10L-86.80 0.00L-86.80 0.00L-86.80 -3.10L-86.80 -3.10L-86.80 -6.20L-86.80 -6.20L-86.80 -9.30L-86.80 -9.30L-86.80 -12.40L-83.70 -12.40L-83.70 -15.50L-83.70 -15.50L-83.70 -18.60L-83.70 -18.60L-83.70 -21.70L-83.70 -21.70L-83.70 -24.80L-80.60 -24.80L-80.60 -27.90L-80.60 -27.90L-80.60 -31.00L-80.60 -31.00L-80.60 -34.10L-77.50 -34.10L-77.50 -37.20L-77.50 -37.20L-77.50 -40.30L-74.40 -40.30L-74.40 -43.40L-74.40 -43.40L-74.40 -46.50L-71.30 -46.50L-71.30 -49.60L-68.20 -49.60L-68.20 -52.70L-68.20 -52.70L-68.20 -55.80L-65.10 -55.80L-65.10 -58.90L-62.00 -58.90L-62.00 -62.00L-58.90 -62.00L-58.90 -65.10L-55.80 -65.10L-55.80 -68.20L-49.60 -68.20L-49.60 -71.30L-46.50 -71.30L-46.50 -74.40L-40.30 -74.40L-40.30 -77.50L-34.10 -77.50L-34.10 -80.60L-24.80 -80.60L-24.80 -83.70L-12.40 -83.70L-12.40 -86.80Z" fill="none" stroke="#b0b0b0" stroke-width="0.6"/></g>
<use href="#grid"/><use href="#coast"/>
<circle r="87.4" fill="none" stroke="#111" stroke-width="1"/>
<rect x="69.8" y="68.7" width="14" height="15" fill="#fff" stroke="#111" stroke-width="1"/>
<text x="76.8" y="80" font-size="13" text-anchor="middle">d</text>
</g>
<g transform="translate(343.7,299.3) scale(1,1.0055)">
<g clip-path="url(#cp)"><g clip-path="url(#cs)"><circle r="89.4" fill="#a5d7dd"/><path d="M-93.2 -25.2L-79.5 -24.7L-78.9 -11.5L-80.0 -0.3L-80.9 13.4L-78.1 21.4L-75.4 32.3L-74.0 41.9L-76.8 46.1L-93.2 46.1Z" fill="#fef6d4"/><path d="M-71.3 -44.4L-60.3 -60.9L-52.1 -71.8L-49.3 -93.8L49.3 -93.8L76.8 -71.8L87.7 -47.1L87.7 2.2L82.2 18.6L74.0 32.3L65.8 43.3L54.8 51.5L41.1 59.8L27.4 65.2L11.0 68.0L-5.5 66.6L-19.2 61.1L-32.9 51.5L-43.9 40.6L-54.8 29.6L-63.0 18.6L-68.5 4.9L-71.3 -8.8L-72.6 -25.2Z" fill="#82c3d2"/><path d="M-68.5 -43.0L-65.8 -55.4L-54.8 -66.3L-41.1 -70.4L-19.2 -71.8L0.0 -69.1L21.9 -67.7L41.1 -63.6L57.6 -55.4L67.2 -44.4L74.0 -28.0L75.4 -0.3L76.8 21.4L74.0 35.1L65.8 48.8L54.8 57.0L38.4 63.9L21.9 65.2L5.5 65.2L-5.5 54.3L-19.2 48.8L-32.9 43.3L-46.6 35.1L-54.8 21.4L-60.3 7.7L-65.8 -6.0L-68.5 -19.7Z" fill="#68b0ca"/><path d="M-52.1 -46.5L-39.0 -47.4L-27.8 -46.5L-20.3 -42.7L-14.7 -50.2L-5.4 -55.8L7.7 -58.6L20.8 -56.8L32.0 -54.0L43.2 -51.2L52.6 -47.4L58.2 -40.9L60.1 -31.5L60.1 -22.2L63.8 -14.7L67.5 -3.5L67.5 11.5L65.7 22.7L61.9 32.0L56.3 41.4L50.7 48.8L43.2 56.3L32.0 60.1L13.3 60.1L7.7 54.4L5.9 45.1L2.1 37.6L-5.4 35.8L-12.8 35.8L-20.3 35.8L-29.7 32.0L-37.1 26.4L-40.9 18.9L-44.6 11.5L-48.4 4.0L-50.2 -7.2L-54.0 -16.6L-55.8 -25.9L-54.0 -39.0Z" fill="#57a0c8"/><path d="M-46.5 -18.4L-35.3 -20.3L-25.9 -22.2L-20.3 -29.7L-18.4 -40.9L-12.8 -50.2L-3.5 -54.9L7.7 -56.8L20.8 -54.9L32.0 -52.1L43.2 -48.4L52.6 -44.6L56.3 -37.1L57.3 -27.8L58.2 -20.3L61.9 -12.8L63.8 -1.6L63.8 11.5L61.9 22.7L58.2 32.0L52.6 41.4L45.1 50.7L35.8 56.3L13.3 57.3L9.6 50.7L7.7 41.4L4.0 33.9L-3.5 30.1L-11.0 32.0L-20.3 33.9L-29.7 30.1L-37.1 24.5L-40.9 17.1L-43.7 7.7L-46.5 -3.5Z" fill="#4a89c0"/><path d="M-39.0 -7.2L-33.4 -12.8L-24.1 -16.6L-18.4 -25.9L-16.6 -37.1L-11.0 -46.5L-1.6 -52.1L9.6 -54.0L20.8 -53.0L32.0 -50.2L43.2 -46.5L50.7 -40.9L54.4 -31.5L55.4 -22.2L58.2 -14.7L61.0 -3.5L61.0 11.5L58.2 22.7L54.4 32.0L48.8 41.4L41.4 48.8L32.0 54.4L17.1 54.4L11.5 48.8L8.7 39.5L5.9 32.0L-1.6 26.4L-9.1 28.3L-18.4 30.1L-27.8 26.4L-35.3 20.8L-39.0 13.3L-39.9 2.1Z" fill="#4070b5"/><path d="M-33.4 -1.6L-27.8 -9.1L-18.4 -14.7L-14.7 -25.9L-11.0 -37.1L-3.5 -45.6L5.9 -50.2L17.1 -51.2L28.3 -49.3L39.5 -44.6L47.9 -39.0L52.6 -29.7L53.5 -20.3L56.3 -11.0L59.1 0.2L59.1 11.5L56.3 22.7L51.6 32.0L45.1 41.4L37.6 48.8L28.3 52.6L18.9 51.6L13.3 45.1L10.5 35.8L6.8 28.3L0.2 23.6L-7.2 25.5L-14.7 28.3L-24.1 26.4L-31.5 20.8L-35.3 13.3L-36.2 5.9Z" fill="#3e58a6"/><path d="M-12.8 -33.4L-5.4 -42.7L4.0 -48.4L13.3 -50.2L22.7 -49.3L32.0 -47.4L41.4 -42.7L47.9 -35.3L51.6 -25.9L53.5 -14.7L55.4 -3.5L56.3 7.7L54.4 18.9L50.7 30.1L45.1 39.5L37.6 47.0L30.1 49.8L22.7 49.8L17.1 45.1L14.3 37.6L11.5 30.1L6.8 24.5L-1.6 20.8L-11.0 19.9L-20.3 17.1L-27.8 13.3L-29.7 5.9L-25.9 -1.6L-20.3 -7.2L-16.6 -14.7L-13.8 -24.1Z" fill="#3c4590"/><path d="M-5.4 -25.9L4.0 -35.3L13.3 -40.9L20.8 -42.7L28.3 -40.9L33.9 -35.3L37.6 -27.8L39.5 -18.4L43.2 -11.0L47.0 -3.5L48.8 5.9L48.8 15.2L47.0 24.5L43.2 32.0L37.6 37.6L30.1 41.4L24.5 37.6L20.8 30.1L17.1 22.7L13.3 15.2L5.9 11.5L-3.5 9.6L-11.0 7.7L-12.8 2.1L-11.0 -5.4L-7.2 -12.8L-5.4 -20.3Z" fill="#32316b"/><path d="M0.2 -16.6L5.9 -18.4L13.3 -25.9L17.1 -33.4L24.5 -33.4L28.3 -25.9L30.1 -16.6L32.0 -7.2L35.8 -3.5L39.5 0.2L41.4 7.7L41.4 15.2L39.5 22.7L35.8 26.4L30.1 24.5L24.5 18.9L20.8 11.5L17.1 5.9L9.6 4.0L2.1 3.0L-3.5 2.1L-5.4 -3.5L-3.5 -11.0Z" fill="#28284f"/><path d="M22.3 -5.0L26.4 -6.3L29.8 -2.6L30.1 3.0L27.3 4.4L23.6 2.1L21.9 -1.6Z" fill="#161628"/></g></g>
<use href="#grid"/><use href="#coast"/>
<circle r="87.4" fill="none" stroke="#111" stroke-width="1"/>
<rect x="69.8" y="68.7" width="14" height="15" fill="#fff" stroke="#111" stroke-width="1"/>
<text x="76.8" y="80" font-size="13" text-anchor="middle">e</text>
</g>
<g transform="translate(573.6,299.3) scale(1,1.0055)">
<g clip-path="url(#cp)"><g clip-path="url(#cs)"><circle r="89.4" fill="#a5d7dd"/><path d="M-93.2 -25.2L-85.0 -23.8L-80.9 -23.8L-79.5 -11.5L-79.5 -0.3L-78.9 7.9L-75.4 16.2L-72.6 24.4L-69.9 31.2L-67.2 39.5L-63.0 45.0L-57.6 47.7L-53.5 51.8L-50.7 57.3L-48.0 64.1L-45.2 68.3L-42.5 73.7L-39.7 78.9L-46.6 92.7L-93.2 92.7Z" fill="#fef6d4"/><path d="M-71.3 -47.1L-65.8 -60.9L-57.6 -71.8L-46.6 -93.8L-0.8 -93.8L-0.8 -84.2L12.9 -82.8L18.4 -77.3L26.6 -71.8L34.8 -66.3L43.0 -63.6L51.3 -59.5L59.5 -54.0L66.3 -48.5L71.8 -43.0L75.9 -36.2L78.7 -29.3L81.4 -19.7L84.2 -11.5L85.5 -0.3L84.2 13.4L81.4 27.1L77.3 38.1L71.8 45.0L65.0 51.8L56.7 58.7L47.1 65.5L36.2 73.5L27.4 79.8L19.5 80.9L10.1 79.8L3.0 76.8L-1.9 71.5L-4.1 61.4L-8.2 54.3L-15.4 47.1L-21.9 43.3L-30.2 42.2L-38.4 39.5L-48.0 35.4L-56.2 31.2L-63.0 24.4L-68.5 16.2L-72.6 7.9L-75.4 -0.3L-74.0 -19.7L-72.6 -33.4Z" fill="#82c3d2"/><path d="M-69.9 -48.5L-67.2 -55.4L-60.3 -63.6L-52.1 -70.4L-42.5 -74.6L-30.2 -77.3L-16.4 -77.3L0.3 -71.8L12.9 -65.0L26.6 -60.9L34.8 -58.1L44.4 -54.0L54.0 -48.5L60.9 -43.0L65.0 -36.2L67.7 -29.3L70.4 -19.7L73.2 -11.5L74.6 -0.3L74.6 13.4L73.2 27.1L69.1 35.4L63.6 43.6L56.7 50.4L49.3 59.8L41.1 66.6L36.2 71.5L29.6 72.6L21.4 72.6L13.2 69.6L7.1 64.4L1.9 56.2L-5.5 48.8L-13.7 40.6L-21.9 35.4L-30.2 32.6L-35.6 29.9L-42.5 27.1L-52.1 23.0L-60.3 16.2L-65.8 7.9L-69.9 -0.3L-68.5 -19.7L-69.1 -36.2Z" fill="#68b0ca"/><path d="M-65.2 -43.1L-53.6 -47.2L-39.9 -48.5L-30.2 -47.2L-22.0 -43.1L-17.5 -49.3L-9.1 -55.8L2.1 -59.6L13.3 -59.6L24.5 -56.8L35.8 -54.0L47.0 -50.2L56.3 -45.6L60.1 -37.1L60.1 -25.9L62.9 -17.5L66.6 -7.2L68.5 7.7L66.6 22.7L62.9 33.9L57.3 43.2L50.7 50.7L43.2 57.3L32.0 61.0L13.3 61.0L6.8 55.4L4.0 47.0L0.2 41.4L-7.2 40.4L-16.6 40.4L-25.9 38.6L-35.3 33.9L-41.8 26.4L-46.5 17.1L-50.2 7.7L-54.0 -1.6L-57.7 -9.1L-61.4 -16.6L-65.2 -25.9Z" fill="#57a0c8"/><path d="M-48.4 -63.3L-39.0 -65.2L-30.2 -61.4L-29.7 -54.0L-37.1 -51.2L-46.5 -53.0L-49.5 -57.7Z" fill="#57a0c8"/><path d="M-46.5 -14.7L-39.0 -17.5L-29.7 -20.3L-22.2 -25.9L-19.4 -35.3L-17.5 -44.6L-12.8 -52.1L-3.5 -56.8L7.7 -58.6L18.9 -57.7L30.1 -55.5L41.4 -52.1L52.6 -48.4L58.2 -40.9L59.1 -31.5L60.1 -22.2L63.8 -14.7L66.6 -3.5L67.2 11.5L65.3 24.5L61.0 35.8L55.4 44.2L47.9 51.6L39.5 57.3L13.3 59.1L7.7 53.5L4.9 46.0L0.2 40.4L-7.2 39.5L-16.6 38.6L-25.9 36.7L-35.3 32.0L-41.8 24.5L-46.5 15.2L-49.3 5.9L-50.2 -3.5Z" fill="#4a89c0"/><path d="M-40.9 -7.2L-33.4 -11.9L-25.0 -15.6L-19.4 -21.3L-17.0 -31.5L-14.3 -41.8L-8.2 -50.2L2.1 -54.9L13.3 -55.8L24.5 -54.0L35.8 -51.2L47.0 -47.4L55.4 -41.8L57.3 -31.5L58.2 -22.2L61.9 -14.7L64.7 -3.5L64.7 11.5L62.5 24.5L58.2 35.8L52.6 45.1L45.1 52.6L36.7 57.3L13.3 58.2L8.7 52.6L4.9 44.2L0.2 37.6L-7.2 36.7L-16.6 36.7L-25.9 34.8L-34.3 29.2L-39.9 21.7L-42.7 13.3L-43.7 2.1Z" fill="#4070b5"/><path d="M-33.4 -7.2L-27.8 -14.7L-20.3 -18.4L-16.6 -29.7L-12.8 -40.9L-5.4 -48.4L4.0 -53.0L15.2 -54.9L26.4 -53.0L37.6 -49.3L47.0 -44.6L54.4 -37.1L56.3 -27.8L58.2 -18.4L61.9 -9.1L63.8 2.1L62.9 15.2L59.1 26.4L53.5 37.6L47.0 47.0L37.6 54.4L26.4 56.3L13.3 56.3L9.6 48.8L7.7 41.4L5.9 32.0L0.2 26.4L-7.2 28.3L-14.7 32.0L-24.1 32.0L-33.4 28.3L-39.0 20.8L-40.9 11.5L-39.0 2.1Z" fill="#3e58a6"/><path d="M-14.7 -31.5L-9.1 -40.9L0.2 -46.5L11.5 -50.2L22.7 -50.2L33.9 -46.5L43.2 -40.9L48.8 -33.4L52.6 -24.1L54.4 -14.7L56.3 -5.4L58.2 5.9L56.3 17.1L52.6 26.4L47.0 35.8L39.5 43.2L30.1 48.8L20.8 50.7L15.2 45.1L12.4 37.6L9.6 30.1L4.0 24.5L-5.4 22.7L-14.7 22.7L-22.2 18.9L-25.9 11.5L-25.9 2.1L-22.2 -5.4L-18.4 -14.7L-16.6 -24.1Z" fill="#3c4590"/><path d="M-7.2 -31.5L2.1 -39.0L13.3 -42.7L22.7 -42.7L32.0 -39.0L39.5 -31.5L43.2 -22.2L45.1 -12.8L48.8 -5.4L50.7 4.0L50.7 15.2L47.0 24.5L41.4 33.9L33.9 39.5L26.4 41.4L18.9 37.6L15.2 30.1L11.5 22.7L5.9 17.1L-1.6 15.2L-11.0 11.5L-14.7 5.9L-12.8 -1.6L-11.0 -9.1L-9.1 -20.3Z" fill="#32316b"/><path d="M-1.6 -25.9L7.7 -31.5L17.1 -35.3L24.5 -37.1L32.0 -31.5L35.8 -22.2L37.6 -11.0L41.4 -3.5L43.2 5.9L43.2 15.2L39.5 24.5L33.9 30.1L26.4 32.0L20.8 28.3L17.1 20.8L13.3 13.3L5.9 9.6L-1.6 7.7L-5.4 4.0L-7.2 -3.5L-5.4 -12.8L-3.5 -20.3Z" fill="#28284f"/><path d="M27.3 0.2L33.9 -0.7L38.6 4.0L39.5 11.5L36.7 15.2L31.1 14.3L27.3 8.7Z" fill="#161628"/><path d="M20.8 -14.3L25.5 -15.1L28.3 -11.0L26.4 -7.6L22.3 -8.2Z" fill="#161628"/><path d="M4.4 -6.3L9.2 -7.2L11.1 -3.9L7.7 -1.6L4.7 -2.4Z" fill="#161628"/></g></g>
<use href="#grid"/><use href="#coast"/>
<circle r="87.4" fill="none" stroke="#111" stroke-width="1"/>
<rect x="69.8" y="68.7" width="14" height="15" fill="#fff" stroke="#111" stroke-width="1"/>
<text x="76.8" y="80" font-size="13" text-anchor="middle">f</text>
</g>
<g transform="translate(113.8,500.4) scale(1,1.0055)">
<g clip-path="url(#cp)"><g clip-path="url(#cs)"><rect x="-64.5" y="-43.8" width="2.7" height="2.5" fill="#57a0c8"/><rect x="-67.2" y="-35.5" width="2.0" height="3.4" fill="#4070b5"/><rect x="-61.8" y="-26.6" width="3.0" height="2.0" fill="#68b0ca"/><rect x="-20.6" y="-32.1" width="2.0" height="2.7" fill="#4070b5"/><rect x="-4.9" y="-24.3" width="2.1" height="3.5" fill="#3e58a6"/><rect x="-9.0" y="-56.3" width="2.2" height="2.5" fill="#68b0ca"/><rect x="-3.5" y="-6.1" width="2.9" height="2.8" fill="#3c4590"/><rect x="-0.8" y="-52.7" width="3.0" height="2.6" fill="#57a0c8"/><rect x="10.2" y="-54.5" width="2.7" height="2.2" fill="#68b0ca"/><rect x="-0.3" y="-44.8" width="4.0" height="3.5" fill="#4070b5"/><rect x="15.2" y="-40.0" width="3.6" height="3.5" fill="#3c4590"/><rect x="30.7" y="-34.2" width="2.1" height="2.8" fill="#3e58a6"/><rect x="23.2" y="-29.4" width="2.7" height="2.8" fill="#3c4590"/><rect x="60.2" y="-34.3" width="2.5" height="3.0" fill="#82c3d2"/><rect x="61.2" y="-29.8" width="2.4" height="3.0" fill="#82c3d2"/><rect x="48.5" y="-21.8" width="3.7" height="2.7" fill="#57a0c8"/><rect x="43.8" y="-13.6" width="2.7" height="2.8" fill="#4070b5"/><rect x="36.2" y="-10.8" width="2.0" height="2.7" fill="#4070b5"/><rect x="25.5" y="-8.8" width="3.0" height="4.1" fill="#3c4590"/><rect x="57.7" y="-16.3" width="3.0" height="2.5" fill="#68b0ca"/><rect x="59.7" y="-13.8" width="2.5" height="2.3" fill="#68b0ca"/><rect x="1.9" y="-2.6" width="3.3" height="2.3" fill="#3c4590"/><rect x="-28.8" y="10.0" width="3.0" height="2.7" fill="#4070b5"/><rect x="-25.3" y="12.2" width="3.0" height="2.5" fill="#4070b5"/><rect x="-15.8" y="5.2" width="3.4" height="1.4" fill="#57a0c8"/><rect x="-30.8" y="17.5" width="2.6" height="3.4" fill="#4070b5"/><rect x="-13.8" y="7.9" width="2.6" height="3.8" fill="#4a89c0"/><rect x="-14.5" y="15.5" width="2.7" height="2.7" fill="#4a89c0"/><rect x="-6.9" y="24.4" width="2.7" height="4.1" fill="#4070b5"/><rect x="-5.3" y="13.7" width="2.5" height="2.5" fill="#4a89c0"/><rect x="-3.3" y="17.7" width="2.5" height="2.5" fill="#57a0c8"/><rect x="-2.8" y="21.2" width="2.5" height="2.0" fill="#4a89c0"/><rect x="-43.9" y="13.7" width="2.6" height="3.5" fill="#57a0c8"/><rect x="20.4" y="1.3" width="2.8" height="3.7" fill="#3c4590"/><rect x="30.5" y="6.2" width="2.7" height="3.7" fill="#3c4590"/><rect x="64.3" y="2.4" width="2.8" height="2.8" fill="#68b0ca"/><rect x="48.5" y="18.5" width="2.8" height="1.8" fill="#4070b5"/><rect x="32.8" y="23.2" width="3.8" height="2.3" fill="#3e58a6"/><rect x="62.2" y="23.7" width="2.8" height="2.7" fill="#57a0c8"/><rect x="23.2" y="33.3" width="2.7" height="2.7" fill="#3e58a6"/><rect x="39.0" y="38.7" width="2.7" height="2.1" fill="#4070b5"/><rect x="25.9" y="44.3" width="2.8" height="2.7" fill="#3e58a6"/><rect x="15.6" y="44.3" width="2.8" height="2.7" fill="#4070b5"/><rect x="41.7" y="46.7" width="2.5" height="5.0" fill="#4a89c0"/><rect x="12.2" y="35.5" width="3.5" height="3.7" fill="#4070b5"/><rect x="11.7" y="39.7" width="3.5" height="4.5" fill="#4070b5"/><rect x="14.7" y="37.7" width="2.0" height="3.0" fill="#3e58a6"/><rect x="1.9" y="25.7" width="2.8" height="3.0" fill="#68b0ca"/><rect x="4.2" y="29.2" width="3.0" height="3.0" fill="#68b0ca"/><rect x="2.2" y="31.7" width="2.5" height="2.3" fill="#57a0c8"/><rect x="4.7" y="38.1" width="3.0" height="2.6" fill="#68b0ca"/><rect x="7.7" y="39.7" width="2.5" height="2.5" fill="#68b0ca"/><rect x="6.1" y="43.7" width="2.4" height="4.0" fill="#68b0ca"/><rect x="-0.8" y="17.7" width="2.5" height="3.5" fill="#57a0c8"/></g></g>
<g clip-path="url(#cp)"><path d="M12.40 -86.80L12.40 -83.70L24.80 -83.70L24.80 -80.60L34.10 -80.60L34.10 -77.50L40.30 -77.50L40.30 -74.40L46.50 -74.40L46.50 -71.30L49.60 -71.30L49.60 -68.20L55.80 -68.20L55.80 -65.10L58.90 -65.10L58.90 -62.00L62.00 -62.00L62.00 -58.90L65.10 -58.90L65.10 -55.80L68.20 -55.80L68.20 -52.70L68.20 -52.70L68.20 -49.60L71.30 -49.60L71.30 -46.50L74.40 -46.50L74.40 -43.40L74.40 -43.40L74.40 -40.30L77.50 -40.30L77.50 -37.20L77.50 -37.20L77.50 -34.10L80.60 -34.10L80.60 -31.00L80.60 -31.00L80.60 -27.90L80.60 -27.90L80.60 -24.80L83.70 -24.80L83.70 -21.70L83.70 -21.70L83.70 -18.60L83.70 -18.60L83.70 -15.50L83.70 -15.50L83.70 -12.40L86.80 -12.40L86.80 -9.30L86.80 -9.30L86.80 -6.20L86.80 -6.20L86.80 -3.10L86.80 -3.10L86.80 0.00L86.80 0.00L86.80 3.10L86.80 3.10L86.80 6.20L86.80 6.20L86.80 9.30L86.80 9.30L86.80 12.40L83.70 12.40L83.70 15.50L83.70 15.50L83.70 18.60L83.70 18.60L83.70 21.70L83.70 21.70L83.70 24.80L80.60 24.80L80.60 27.90L80.60 27.90L80.60 31.00L80.60 31.00L80.60 34.10L77.50 34.10L77.50 37.20L77.50 37.20L77.50 40.30L74.40 40.30L74.40 43.40L74.40 43.40L74.40 46.50L71.30 46.50L71.30 49.60L68.20 49.60L68.20 52.70L68.20 52.70L68.20 55.80L65.10 55.80L65.10 58.90L62.00 58.90L62.00 62.00L58.90 62.00L58.90 65.10L55.80 65.10L55.80 68.20L49.60 68.20L49.60 71.30L46.50 71.30L46.50 74.40L40.30 74.40L40.30 77.50L34.10 77.50L34.10 80.60L24.80 80.60L24.80 83.70L12.40 83.70L12.40 86.80L-12.40 86.80L-12.40 83.70L-24.80 83.70L-24.80 80.60L-34.10 80.60L-34.10 77.50L-40.30 77.50L-40.30 74.40L-46.50 74.40L-46.50 71.30L-49.60 71.30L-49.60 68.20L-55.80 68.20L-55.80 65.10L-58.90 65.10L-58.90 62.00L-62.00 62.00L-62.00 58.90L-65.10 58.90L-65.10 55.80L-68.20 55.80L-68.20 52.70L-68.20 52.70L-68.20 49.60L-71.30 49.60L-71.30 46.50L-74.40 46.50L-74.40 43.40L-74.40 43.40L-74.40 40.30L-77.50 40.30L-77.50 37.20L-77.50 37.20L-77.50 34.10L-80.60 34.10L-80.60 31.00L-80.60 31.00L-80.60 27.90L-80.60 27.90L-80.60 24.80L-83.70 24.80L-83.70 21.70L-83.70 21.70L-83.70 18.60L-83.70 18.60L-83.70 15.50L-83.70 15.50L-83.70 12.40L-86.80 12.40L-86.80 9.30L-86.80 9.30L-86.80 6.20L-86.80 6.20L-86.80 3.10L-86.80 3.10L-86.80 0.00L-86.80 0.00L-86.80 -3.10L-86.80 -3.10L-86.80 -6.20L-86.80 -6.20L-86.80 -9.30L-86.80 -9.30L-86.80 -12.40L-83.70 -12.40L-83.70 -15.50L-83.70 -15.50L-83.70 -18.60L-83.70 -18.60L-83.70 -21.70L-83.70 -21.70L-83.70 -24.80L-80.60 -24.80L-80.60 -27.90L-80.60 -27.90L-80.60 -31.00L-80.60 -31.00L-80.60 -34.10L-77.50 -34.10L-77.50 -37.20L-77.50 -37.20L-77.50 -40.30L-74.40 -40.30L-74.40 -43.40L-74.40 -43.40L-74.40 -46.50L-71.30 -46.50L-71.30 -49.60L-68.20 -49.60L-68.20 -52.70L-68.20 -52.70L-68.20 -55.80L-65.10 -55.80L-65.10 -58.90L-62.00 -58.90L-62.00 -62.00L-58.90 -62.00L-58.90 -65.10L-55.80 -65.10L-55.80 -68.20L-49.60 -68.20L-49.60 -71.30L-46.50 -71.30L-46.50 -74.40L-40.30 -74.40L-40.30 -77.50L-34.10 -77.50L-34.10 -80.60L-24.80 -80.60L-24.80 -83.70L-12.40 -83.70L-12.40 -86.80Z" fill="none" stroke="#b0b0b0" stroke-width="0.6"/></g>
<use href="#grid"/><use href="#coast"/>
<circle r="87.4" fill="none" stroke="#111" stroke-width="1"/>
<rect x="69.8" y="68.7" width="14" height="15" fill="#fff" stroke="#111" stroke-width="1"/>
<text x="76.8" y="80" font-size="13" text-anchor="middle">j</text>
</g>
<g transform="translate(343.7,500.4) scale(1,1.0055)">
<g clip-path="url(#cp)"><g clip-path="url(#cs)"><circle r="89.4" fill="#a5d7dd"/><path d="M-93.2 -29.3L-83.6 -28.5L-78.1 -26.6L-78.1 -17.0L-79.5 -6.0L-80.0 -0.3L-79.5 13.4L-76.8 21.4L-74.0 32.3L-72.6 43.3L-75.4 47.4L-93.2 47.4Z" fill="#fef6d4"/><path d="M-16.4 92.7L-13.7 79.5L-5.5 77.6L2.7 78.4L13.7 79.5L16.4 92.7Z" fill="#fef6d4"/><path d="M-61.7 -43.0L-60.3 -49.9L-52.1 -56.7L-42.5 -60.9L-30.2 -63.6L-19.2 -65.0L-8.2 -65.0L-0.8 -60.9L12.9 -61.7L26.6 -60.3L36.2 -56.7L47.1 -52.6L56.7 -47.1L65.0 -38.9L70.4 -30.7L71.8 -22.5L73.2 -11.5L74.6 -0.3L75.9 -0.3L74.6 13.4L71.8 27.1L67.7 38.1L60.9 46.3L54.0 53.2L44.4 58.7L34.8 64.1L26.6 66.9L15.6 68.3L6.0 68.3L-0.8 66.9L-12.3 60.0L-26.0 54.6L-35.6 47.7L-46.6 40.8L-53.5 34.0L-60.3 24.4L-61.7 13.4L-61.7 -0.3L-62.5 -26.6Z" fill="#82c3d2"/><path d="M-58.9 -33.4L-49.3 -40.3L-35.6 -43.0L-23.3 -41.7L-17.8 -49.9L-12.3 -55.4L-5.5 -58.7L5.5 -60.0L19.2 -58.7L32.9 -54.8L43.9 -50.4L52.1 -45.8L58.9 -39.5L62.5 -30.7L65.2 -19.7L67.4 -8.8L68.5 2.2L67.2 15.9L63.0 26.9L57.6 36.5L49.3 43.3L38.4 48.8L27.4 52.9L16.4 54.8L5.5 53.5L-5.5 48.8L-16.4 43.3L-27.4 37.8L-38.4 32.3L-49.3 24.1L-56.2 13.2L-58.9 -0.5L-60.3 -17.0Z" fill="#68b0ca"/><path d="M-29.7 -15.6L-22.2 -19.4L-19.4 -27.8L-18.1 -37.1L-15.6 -46.5L-7.2 -55.8L4.0 -58.6L17.1 -58.6L30.1 -55.8L43.2 -52.1L54.4 -47.4L60.1 -40.9L61.0 -31.5L61.9 -22.2L65.7 -14.7L69.4 -3.5L70.3 11.5L68.5 24.5L64.7 35.8L59.1 45.1L52.6 52.6L45.1 58.2L13.3 61.0L7.7 54.4L4.9 45.1L0.2 39.5L-7.2 39.5L-16.6 40.4L-25.9 38.6L-35.3 34.8L-40.9 26.4L-44.2 17.1L-45.4 7.7L-44.6 -1.6L-39.9 -10.0L-34.3 -13.8Z" fill="#57a0c8"/><path d="M-35.3 -14.7L-25.9 -20.3L-20.3 -29.7L-17.5 -40.9L-12.8 -48.4L-3.5 -54.0L7.7 -56.2L20.8 -54.9L32.0 -51.7L43.2 -48.4L52.6 -43.7L57.3 -35.3L58.2 -25.9L61.0 -16.6L64.7 -7.2L65.7 7.7L64.7 20.8L61.0 32.0L55.4 41.4L48.8 48.8L41.4 55.4L13.3 58.2L9.6 50.7L7.7 41.4L4.0 33.9L-1.6 30.1L-9.1 30.1L-16.6 32.0L-25.9 30.1L-33.4 26.4L-38.1 18.9L-40.9 9.6L-40.9 -1.6L-39.0 -9.1Z" fill="#4a89c0"/><path d="M-11.0 -44.6L-1.6 -50.2L9.6 -53.0L20.8 -52.1L32.0 -48.4L41.4 -44.6L48.8 -39.0L54.4 -31.5L56.3 -22.2L58.2 -12.8L61.9 -3.5L62.9 7.7L61.9 18.9L58.2 30.1L52.6 39.5L47.0 47.0L39.5 53.5L30.1 56.3L17.1 56.3L12.4 48.8L10.5 39.5L7.7 30.1L2.1 24.5L-5.4 22.7L-14.7 22.7L-24.1 20.8L-31.5 15.2L-33.4 5.9L-31.5 -1.6L-25.9 -7.2L-20.3 -12.8L-14.7 -20.3L-12.8 -31.5Z" fill="#4070b5"/><path d="M4.0 -40.9L13.3 -44.6L22.7 -44.6L32.0 -40.9L39.5 -35.3L43.2 -25.9L45.1 -16.6L48.8 -9.1L52.6 -1.6L54.4 7.7L52.6 17.1L48.8 26.4L45.1 33.9L41.4 41.4L35.8 47.0L28.3 48.8L20.8 47.0L17.1 39.5L15.2 30.1L11.5 22.7L4.0 17.1L-5.4 15.2L-14.7 13.3L-20.3 9.6L-22.2 2.1L-18.4 -3.5L-12.8 -7.2L-7.2 -12.8L-3.5 -20.3L-1.6 -29.7L0.2 -37.1Z" fill="#3e58a6"/><path d="M17.1 -35.3L24.5 -35.3L30.1 -29.7L33.9 -20.3L35.8 -11.0L39.5 -3.5L43.2 4.0L43.2 15.2L41.4 24.5L37.6 30.1L32.0 32.0L26.4 28.3L22.7 20.8L17.1 15.2L9.6 11.5L2.1 9.6L-5.4 7.7L-14.7 5.9L-19.4 1.2L-14.7 -2.6L-7.2 -5.4L-3.5 -11.0L2.1 -14.7L7.7 -18.4L11.5 -25.9L15.2 -31.5Z" fill="#3c4590"/></g></g>
<use href="#grid"/><use href="#coast"/>
<circle r="87.4" fill="none" stroke="#111" stroke-width="1"/>
<rect x="69.8" y="68.7" width="14" height="15" fill="#fff" stroke="#111" stroke-width="1"/>
<text x="76.8" y="80" font-size="13" text-anchor="middle">h</text>
</g>
<g transform="translate(573.6,500.4) scale(1,1.0055)">
<g clip-path="url(#cp)"><g clip-path="url(#cs)"><circle r="89.4" fill="#a5d7dd"/><path d="M-93.2 -29.3L-83.6 -28.5L-78.1 -27.4L-78.1 -17.0L-79.5 -6.0L-79.5 4.9L-78.1 15.9L-74.0 26.9L-71.3 37.8L-67.2 46.1L-61.7 54.3L-58.9 62.5L-63.0 68.0L-93.2 68.0Z" fill="#fef6d4"/><path d="M0.0 92.7L2.7 81.7L8.2 78.9L15.1 79.5L20.6 83.1L21.9 92.7Z" fill="#fef6d4"/><path d="M-63.0 -43.0L-60.3 -55.4L-54.8 -66.3L-46.6 -77.3L-32.9 -93.8L15.9 -93.8L15.9 -82.8L17.8 -71.8L22.5 -60.9L30.7 -58.1L37.6 -55.4L47.1 -52.6L56.7 -47.1L63.6 -40.3L69.1 -33.4L71.8 -26.6L73.2 -17.0L74.0 -6.0L74.6 -0.3L75.9 -0.3L75.4 13.4L73.2 27.1L69.1 38.1L62.2 46.3L54.0 53.2L44.4 58.7L34.8 62.8L23.8 65.5L12.9 66.9L-0.8 67.4L-12.3 61.4L-23.3 54.6L-32.9 45.0L-42.5 35.4L-49.3 27.1L-56.2 17.5L-60.3 7.9L-61.7 -0.3L-62.5 -26.6Z" fill="#82c3d2"/><path d="M-58.9 -33.4L-49.3 -40.3L-35.6 -43.0L-23.3 -43.0L-17.8 -49.9L-12.3 -55.4L-5.5 -58.7L5.5 -60.0L19.2 -58.7L32.9 -54.8L43.9 -50.4L52.1 -45.8L58.9 -39.5L62.5 -30.7L65.2 -19.7L67.4 -8.8L68.5 2.2L67.2 15.9L63.0 26.9L57.6 36.5L49.3 43.3L38.4 48.8L27.4 52.9L16.4 54.8L5.5 53.5L-5.5 48.8L-16.4 43.3L-27.4 37.8L-38.4 32.3L-49.3 24.1L-56.2 13.2L-58.9 -0.5L-60.3 -17.0Z" fill="#68b0ca"/><path d="M-6.0 -71.3L2.7 -72.9L14.5 -71.8L14.5 -62.0L5.5 -61.4L-5.5 -63.0Z" fill="#a5d7dd"/><path d="M-29.7 -15.6L-22.2 -19.4L-19.4 -27.8L-18.1 -37.1L-15.6 -46.5L-7.2 -55.8L4.0 -58.6L17.1 -58.6L30.1 -55.8L43.2 -52.1L54.4 -47.4L60.1 -40.9L61.0 -31.5L61.9 -22.2L65.7 -14.7L69.4 -3.5L70.3 11.5L68.5 24.5L64.7 35.8L59.1 45.1L52.6 52.6L45.1 58.2L13.3 61.0L7.7 54.4L4.9 45.1L0.2 39.5L-7.2 39.5L-16.6 40.4L-25.9 38.6L-35.3 34.8L-40.9 26.4L-44.2 17.1L-45.4 7.7L-44.6 -1.6L-39.9 -10.0L-34.3 -13.8Z" fill="#57a0c8"/><path d="M-35.3 -14.7L-25.9 -20.3L-20.3 -29.7L-17.5 -40.9L-12.8 -48.4L-3.5 -54.0L7.7 -56.2L20.8 -54.9L32.0 -51.7L43.2 -48.4L52.6 -43.7L57.3 -35.3L58.2 -25.9L61.0 -16.6L64.7 -7.2L65.7 7.7L64.7 20.8L61.0 32.0L55.4 41.4L48.8 48.8L41.4 55.4L13.3 58.2L9.6 50.7L7.7 41.4L4.0 33.9L-1.6 30.1L-9.1 30.1L-16.6 32.0L-25.9 30.1L-33.4 26.4L-38.1 18.9L-40.9 9.6L-40.9 -1.6L-39.0 -9.1Z" fill="#4a89c0"/><path d="M-12.8 -44.6L-3.5 -50.2L7.7 -53.0L18.9 -53.0L30.1 -50.2L39.5 -46.5L48.8 -40.9L54.4 -33.4L56.3 -24.1L58.2 -14.7L61.9 -5.4L62.9 5.9L61.9 17.1L58.2 28.3L52.6 37.6L47.0 45.1L39.5 52.6L30.1 56.3L17.1 56.3L11.5 48.8L9.6 39.5L6.8 30.1L1.2 24.5L-7.2 22.7L-16.6 22.7L-25.9 20.8L-33.4 15.2L-35.3 5.9L-33.4 -1.6L-27.8 -7.2L-22.2 -12.8L-16.6 -20.3L-14.7 -33.4Z" fill="#4070b5"/><path d="M-1.6 -37.1L7.7 -42.7L18.9 -44.6L30.1 -42.7L37.6 -37.1L43.2 -27.8L45.1 -18.4L48.8 -9.1L52.6 0.2L54.4 9.6L52.6 18.9L48.8 28.3L45.1 35.8L39.5 43.2L32.0 48.8L24.5 48.8L18.9 43.2L15.2 33.9L11.5 24.5L4.0 18.9L-5.4 17.1L-14.7 15.2L-20.3 11.5L-22.2 4.0L-18.4 -3.5L-12.8 -9.1L-9.1 -16.6L-5.4 -27.8Z" fill="#3e58a6"/><path d="M7.7 -27.8L17.1 -33.4L24.5 -35.3L30.1 -29.7L33.9 -20.3L37.6 -11.0L41.4 -1.6L43.2 7.7L43.2 17.1L39.5 26.4L35.8 30.1L30.1 28.3L24.5 22.7L18.9 17.1L13.3 13.3L5.9 10.5L-1.6 7.7L-7.2 4.0L-5.4 -3.5L-1.6 -11.0L2.1 -18.4L5.9 -24.1Z" fill="#3c4590"/><path d="M11.5 -14.7L17.1 -18.4L22.7 -22.2L26.4 -18.4L24.5 -12.8L18.9 -9.1L13.3 -8.2Z" fill="#32316b"/></g></g>
<use href="#grid"/><use href="#coast"/>
<circle r="87.4" fill="none" stroke="#111" stroke-width="1"/>
<rect x="69.8" y="68.7" width="14" height="15" fill="#fff" stroke="#111" stroke-width="1"/>
<text x="76.8" y="80" font-size="13" text-anchor="middle">i</text>
</g>
<text x="113.8" y="7.5" font-size="10" text-anchor="middle">0</text>
<text x="113.8" y="196.7" font-size="10" text-anchor="middle">180</text>
<text x="19.9" y="101.9" font-size="10" text-anchor="end">90W</text>
<text x="208.2" y="101.9" font-size="10" text-anchor="start">90E</text>
<text x="343.7" y="7.5" font-size="10" text-anchor="middle">0</text>
<text x="343.7" y="196.7" font-size="10" text-anchor="middle">180</text>
<text x="249.8" y="101.9" font-size="10" text-anchor="end">90W</text>
<text x="438.1" y="101.9" font-size="10" text-anchor="start">90E</text>
<text x="573.6" y="7.5" font-size="10" text-anchor="middle">0</text>
<text x="573.6" y="196.7" font-size="10" text-anchor="middle">180</text>
<text x="479.7" y="101.9" font-size="10" text-anchor="end">90W</text>
<text x="668.0" y="101.9" font-size="10" text-anchor="start">90E</text>
<text x="113.8" y="208.5" font-size="10" text-anchor="middle">0</text>
<text x="113.8" y="397.7" font-size="10" text-anchor="middle">180</text>
<text x="19.9" y="302.9" font-size="10" text-anchor="end">90W</text>
<text x="208.2" y="302.9" font-size="10" text-anchor="start">90E</text>
<text x="343.7" y="208.5" font-size="10" text-anchor="middle">0</text>
<text x="343.7" y="397.7" font-size="10" text-anchor="middle">180</text>
<text x="249.8" y="302.9" font-size="10" text-anchor="end">90W</text>
<text x="438.1" y="302.9" font-size="10" text-anchor="start">90E</text>
<text x="573.6" y="208.5" font-size="10" text-anchor="middle">0</text>
<text x="573.6" y="397.7" font-size="10" text-anchor="middle">180</text>
<text x="479.7" y="302.9" font-size="10" text-anchor="end">90W</text>
<text x="668.0" y="302.9" font-size="10" text-anchor="start">90E</text>
<text x="113.8" y="409.6" font-size="10" text-anchor="middle">0</text>
<text x="113.8" y="598.8" font-size="10" text-anchor="middle">180</text>
<text x="19.9" y="504.0" font-size="10" text-anchor="end">90W</text>
<text x="208.2" y="504.0" font-size="10" text-anchor="start">90E</text>
<text x="343.7" y="409.6" font-size="10" text-anchor="middle">0</text>
<text x="343.7" y="598.8" font-size="10" text-anchor="middle">180</text>
<text x="249.8" y="504.0" font-size="10" text-anchor="end">90W</text>
<text x="438.1" y="504.0" font-size="10" text-anchor="start">90E</text>
<text x="573.6" y="409.6" font-size="10" text-anchor="middle">0</text>
<text x="573.6" y="598.8" font-size="10" text-anchor="middle">180</text>
<text x="479.7" y="504.0" font-size="10" text-anchor="end">90W</text>
<text x="668.0" y="504.0" font-size="10" text-anchor="start">90E</text>
<rect x="114.60" y="600.4" width="28.47" height="13.1" fill="#ffffff"/>
<rect x="143.07" y="600.4" width="28.47" height="13.1" fill="#161628"/>
<rect x="171.54" y="600.4" width="28.47" height="13.1" fill="#28284f"/>
<rect x="200.01" y="600.4" width="28.47" height="13.1" fill="#32316b"/>
<rect x="228.48" y="600.4" width="28.47" height="13.1" fill="#3c4590"/>
<rect x="256.95" y="600.4" width="28.47" height="13.1" fill="#3e58a6"/>
<rect x="285.42" y="600.4" width="28.47" height="13.1" fill="#4070b5"/>
<rect x="313.89" y="600.4" width="28.47" height="13.1" fill="#4a89c0"/>
<rect x="342.36" y="600.4" width="28.47" height="13.1" fill="#57a0c8"/>
<rect x="370.83" y="600.4" width="28.47" height="13.1" fill="#68b0ca"/>
<rect x="399.30" y="600.4" width="28.47" height="13.1" fill="#82c3d2"/>
<rect x="427.77" y="600.4" width="28.47" height="13.1" fill="#a5d7dd"/>
<rect x="456.24" y="600.4" width="28.47" height="13.1" fill="#fef6d4"/>
<rect x="484.71" y="600.4" width="28.47" height="13.1" fill="#fde9a0"/>
<rect x="513.18" y="600.4" width="28.47" height="13.1" fill="#fdd070"/>
<rect x="541.65" y="600.4" width="28.47" height="13.1" fill="#ffffff"/>
<line x1="143.07" y1="600.4" x2="143.07" y2="613.5" stroke="#111" stroke-width="0.9"/>
<line x1="171.54" y1="600.4" x2="171.54" y2="613.5" stroke="#111" stroke-width="0.9"/>
<line x1="200.01" y1="600.4" x2="200.01" y2="613.5" stroke="#111" stroke-width="0.9"/>
<line x1="228.48" y1="600.4" x2="228.48" y2="613.5" stroke="#111" stroke-width="0.9"/>
<line x1="256.95" y1="600.4" x2="256.95" y2="613.5" stroke="#111" stroke-width="0.9"/>
<line x1="285.42" y1="600.4" x2="285.42" y2="613.5" stroke="#111" stroke-width="0.9"/>
<line x1="313.89" y1="600.4" x2="313.89" y2="613.5" stroke="#111" stroke-width="0.9"/>
<line x1="342.36" y1="600.4" x2="342.36" y2="613.5" stroke="#111" stroke-width="0.9"/>
<line x1="370.83" y1="600.4" x2="370.83" y2="613.5" stroke="#111" stroke-width="0.9"/>
<line x1="399.30" y1="600.4" x2="399.30" y2="613.5" stroke="#111" stroke-width="0.9"/>
<line x1="427.77" y1="600.4" x2="427.77" y2="613.5" stroke="#111" stroke-width="0.9"/>
<line x1="456.24" y1="600.4" x2="456.24" y2="613.5" stroke="#111" stroke-width="0.9"/>
<line x1="484.71" y1="600.4" x2="484.71" y2="613.5" stroke="#111" stroke-width="0.9"/>
<line x1="513.18" y1="600.4" x2="513.18" y2="613.5" stroke="#111" stroke-width="0.9"/>
<line x1="541.65" y1="600.4" x2="541.65" y2="613.5" stroke="#111" stroke-width="0.9"/>
<rect x="114.6" y="600.4" width="455.52" height="13.1" fill="none" stroke="#111" stroke-width="1"/>
<text x="143.07" y="625.6" font-size="11" text-anchor="middle">-77</text>
<text x="171.54" y="625.6" font-size="11" text-anchor="middle">-70</text>
<text x="200.01" y="625.6" font-size="11" text-anchor="middle">-63</text>
<text x="228.48" y="625.6" font-size="11" text-anchor="middle">-56</text>
<text x="256.95" y="625.6" font-size="11" text-anchor="middle">-49</text>
<text x="285.42" y="625.6" font-size="11" text-anchor="middle">-42</text>
<text x="313.89" y="625.6" font-size="11" text-anchor="middle">-35</text>
<text x="342.36" y="625.6" font-size="11" text-anchor="middle">-28</text>
<text x="370.83" y="625.6" font-size="11" text-anchor="middle">-21</text>
<text x="399.30" y="625.6" font-size="11" text-anchor="middle">-14</text>
<text x="427.77" y="625.6" font-size="11" text-anchor="middle">-7</text>
<text x="456.24" y="625.6" font-size="11" text-anchor="middle">0</text>
<text x="484.71" y="625.6" font-size="11" text-anchor="middle">7</text>
<text x="513.18" y="625.6" font-size="11" text-anchor="middle">14</text>
<text x="541.65" y="625.6" font-size="11" text-anchor="middle">21</text>
<text x="342.4" y="640" font-size="11.8" text-anchor="middle">SAT (<tspan font-size="6.5" dy="-5">o</tspan><tspan dy="5">C)</tspan></text>
</svg>
</body></html>
